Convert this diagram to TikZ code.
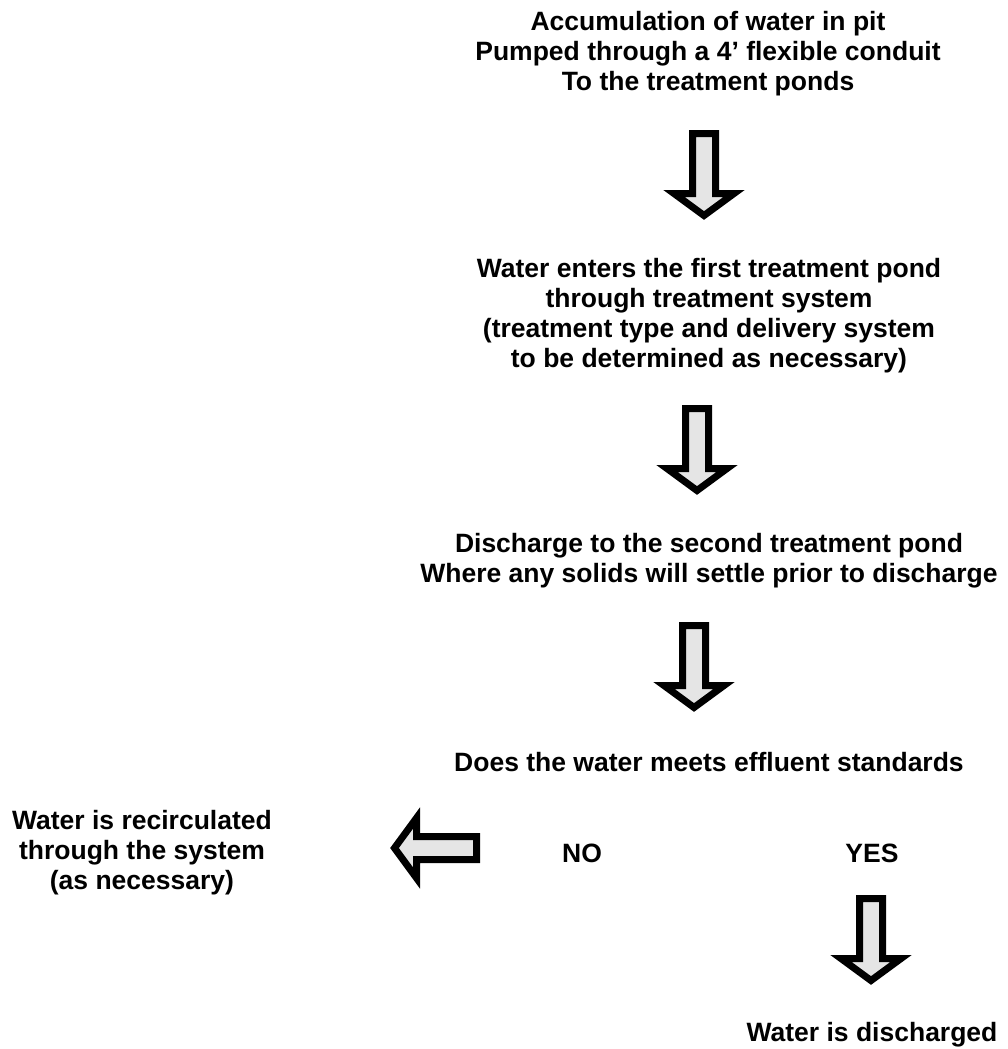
\documentclass[tikz,border=0pt]{standalone}
\usepackage{fontspec}
\setmainfont{Liberation Sans}
\usepackage{tikz}
\usetikzlibrary{calc}
\tikzset{
    every node/.style={font=\bfseries\fontsize{26.5}{30}\selectfont},
}
\begin{document}
\begin{tikzpicture}[x=1pt, y=-1pt,
        txt/.style={align=center,inner sep=0pt},
        blockarrow/.style={draw=black,line width=7pt,fill=black!10,line join=miter,miter limit=10,
            to path={
                ($(\tikztotarget)!22pt!(\tikztostart)$) coordinate (hb)
                ($(\tikztostart)!11.5pt!90:(\tikztotarget)$)
                -- ($(hb)!11.5pt!-90:(\tikztostart)$)
                -- ($(hb)!30pt!-90:(\tikztostart)$)
                -- (\tikztotarget)
                -- ($(hb)!30pt!90:(\tikztostart)$)
                -- ($(hb)!11.5pt!90:(\tikztostart)$)
                -- ($(\tikztostart)!11.5pt!-90:(\tikztotarget)$)
                -- cycle}}
    ]
    \useasboundingbox (0,0) rectangle (1007,1049);

    % steps down the middle
    \node[txt] (pit) at (708,54) {Accumulation of water in pit\\Pumped through a 4’ flexible conduit\\To the treatment ponds};
    \node[txt] (pond1) at (709,316) {Water enters the first treatment pond\\through treatment system\\(treatment type and delivery system\\to be determined as necessary)};
    \node[txt] (pond2) at (709,561) {Discharge to the second treatment pond\\Where any solids will settle prior to discharge};
    \node[txt] (check) at (709,762) {Does the water meets effluent standards};

    % answers
    \node[txt] (no) at (582,853) {NO};
    \node[txt] (yes) at (872,853) {YES};
    \node[txt] (recirc) at (142,853) {Water is recirculated\\through the system\\(as necessary)};
    \node[txt] (dis) at (872,1035) {Water is discharged};

    % arrow ends
    \coordinate (a1s) at (704,133.5);
    \coordinate (a1e) at (704,215.5);
    \coordinate (a2s) at (697,408.5);
    \coordinate (a2e) at (697,490.5);
    \coordinate (a3s) at (694,625.5);
    \coordinate (a3e) at (694,707.5);
    \coordinate (a4s) at (871,898.5);
    \coordinate (a4e) at (871,980.5);
    \coordinate (nos) at (476.5,848);
    \coordinate (noe) at (394.5,848);

    % block arrows
    \draw[blockarrow] (a1s) to (a1e);
    \draw[blockarrow] (a2s) to (a2e);
    \draw[blockarrow] (a3s) to (a3e);
    \draw[blockarrow] (a4s) to (a4e);
    \draw[blockarrow] (nos) to (noe);
\end{tikzpicture}
\end{document}
